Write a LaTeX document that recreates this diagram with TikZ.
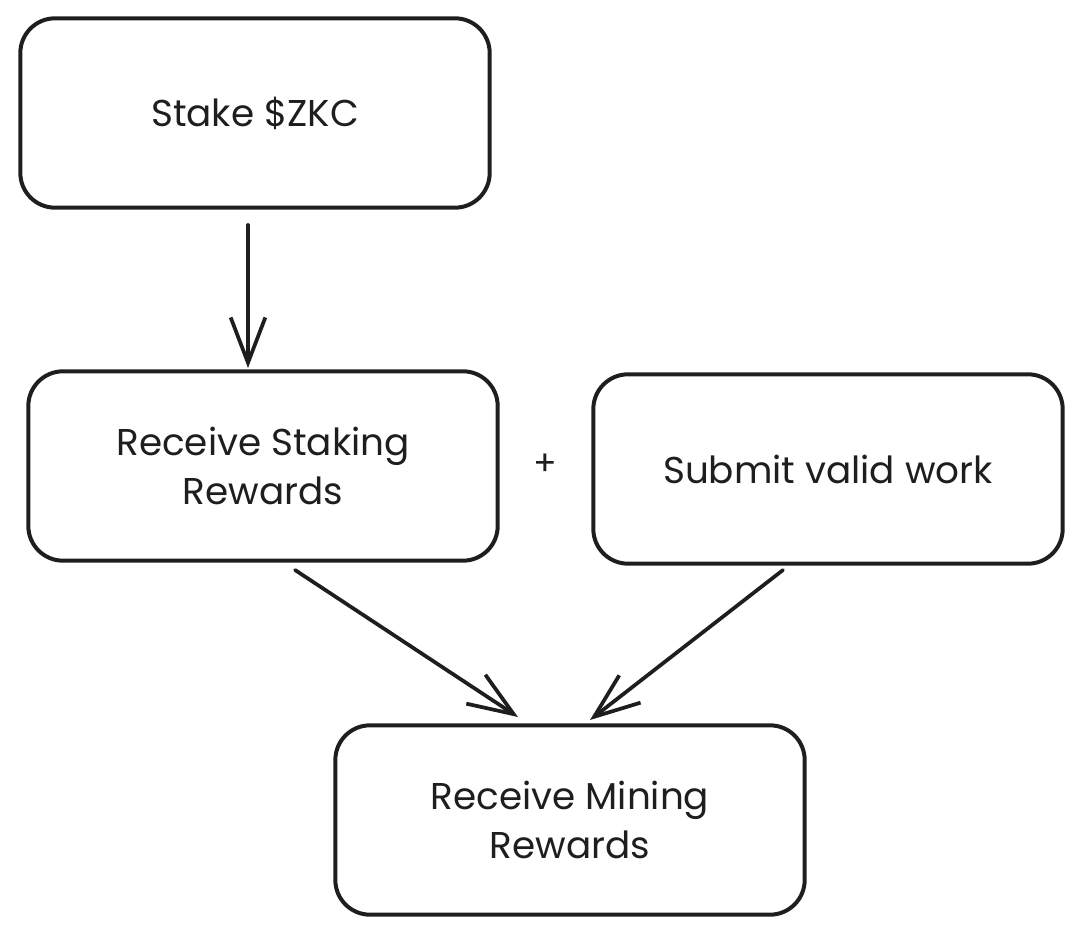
\documentclass[tikz,border=0pt]{standalone}
\usepackage{fontspec}
\setmainfont{Poppins}
\usetikzlibrary{arrows.meta}
\definecolor{ink}{HTML}{1E1E1E}
\begin{document}
\begin{tikzpicture}[x=0.75pt,y=-0.75pt,
  box/.style={draw=ink,line width=3pt,rounded corners=26pt,minimum width=352pt,minimum height=142pt,align=center,font=\fontsize{28}{37}\selectfont,text=ink},
  conn/.style={draw=ink,line width=2.8pt,line cap=round,-{Straight Barb[length=34pt,width=26pt,line width=2.8pt]}}]
\useasboundingbox (0,0) rectangle (1084,937);
\node[box] (stake) at (255,113) {Stake \$ZKC};
\node[box] (recv) at (263,466) {Receive Staking\\Rewards};
\node[box] (submit) at (828,469) {Submit valid work};
\node[box] (mining) at (570,820) {Receive Mining\\Rewards};
\node[font=\fontsize{26}{30}\selectfont,text=ink] (plus) at (545,465) {+};
\coordinate (a1) at (248,225);
\coordinate (a2) at (248,368);
\coordinate (b1) at (295,570);
\coordinate (b2) at (518,717);
\coordinate (c1) at (783,570);
\coordinate (c2) at (590,720);
\draw[conn] (a1) -- (a2);
\draw[conn] (b1) -- (b2);
\draw[conn] (c1) -- (c2);
\end{tikzpicture}
\end{document}
